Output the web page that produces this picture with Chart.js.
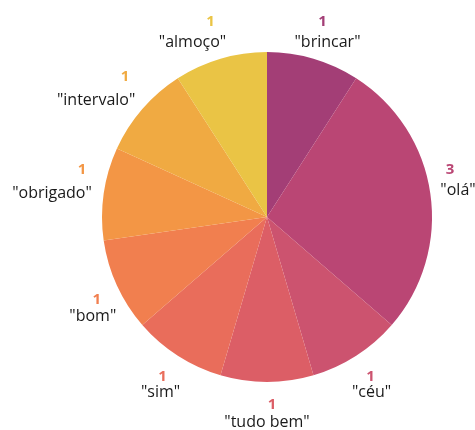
<!DOCTYPE html>
<html>
<head>
<meta charset="utf-8">
<script src="https://cdn.jsdelivr.net/npm/chart.js@4"></script>
<style>
  html, body { margin: 0; padding: 0; background: #fff; }
  #wrap { width: 475px; height: 430px; }
</style>
</head>
<body>
<div id="wrap"><canvas id="pie-graph" width="475" height="430"></canvas></div>
<script>
const palavras = ['"brincar"', '"olá"', '"céu"', '"tudo bem"', '"sim"', '"bom"', '"obrigado"', '"intervalo"', '"almoço"'];
const contagens = [1, 3, 1, 1, 1, 1, 1, 1, 1];
const cores = ['#A33E76', '#BA4674', '#CC536F', '#DC5E66', '#E96D5B', '#F17F4F', '#F39645', '#F0AA42', '#EAC445'];

// offsets of the count and the word from the point just outside each slice
const ajustes = [
    [0, -6, 5, 14],
    [-12, -19, -4, 1],
    [-3, -6, -2, 10],
    [5, -9, 0, 8],
    [2, -6, 0, 10],
    [9, 1, 5, 18],
    [10, -19, -20, 4],
    [7, -11, -22, 12],
    [-1, -6, -19, 14]
];

const rotulos = {
    id: 'rotulos',
    afterDatasetsDraw(chart) {
        const ctx = chart.ctx;
        const arcs = chart.getDatasetMeta(0).data;
        ctx.save();
        ctx.textAlign = 'center';
        ctx.textBaseline = 'middle';
        arcs.forEach((arc, i) => {
            const meio = (arc.startAngle + arc.endAngle) / 2;
            const r = arc.outerRadius + 32;
            const x = arc.x + Math.cos(meio) * r;
            const y = arc.y + Math.sin(meio) * r;
            const a = ajustes[i];
            ctx.font = 'bold 15px "Open Sans"';
            ctx.fillStyle = cores[i];
            ctx.fillText(String(contagens[i]), x + a[0], y + a[1]);
            ctx.font = '16px "Open Sans"';
            ctx.fillStyle = '#1a1a1a';
            ctx.fillText(palavras[i], x + a[2], y + a[3]);
        });
        ctx.restore();
    }
};

let pieGraph = new Chart(document.getElementById('pie-graph'), {
    type: 'pie',
    data: {
        labels: palavras,
        datasets: [{
            data: contagens,
            backgroundColor: cores,
            borderWidth: 0,
        }]
    },
    options: {
        responsive: false,
        animation: false,
        layout: {
            padding: { left: 102, right: 43, top: 52, bottom: 48 }
        },
        plugins: {
            legend: { display: false },
            tooltip: { enabled: false },
        },
    },
    plugins: [rotulos],
});
</script>
</body>
</html>
